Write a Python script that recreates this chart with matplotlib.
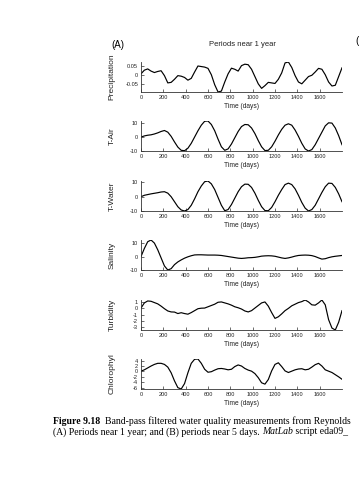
import numpy as np
import matplotlib
matplotlib.use("Agg")
import matplotlib.pyplot as plt

plt.rcParams["font.family"] = ["Liberation Sans", "DejaVu Sans"]
plt.rcParams["axes.unicode_minus"] = False

# time axis (days), every 30 days
days = list(range(0, 1801, 30))

precipitation = [
    0.005, 0.025, 0.032, 0.02, 0.012, 0.018, 0.022, -0.005, -0.045, -0.042,
    -0.025, -0.005, -0.008, -0.015, -0.03, -0.02, 0.015, 0.048, 0.045, 0.042,
    0.035, 0.0, -0.055, -0.095, -0.09, -0.04, 0.005, 0.036, 0.03, 0.02,
    0.05, 0.058, 0.055, 0.03, -0.01, -0.05, -0.075, -0.06, -0.042, -0.045,
    -0.048, -0.025, 0.01, 0.065, 0.07, 0.04, -0.005, -0.04, -0.05, -0.03,
    -0.01, -0.003, 0.015, 0.035, 0.03, 0.0, -0.04, -0.062, -0.058, -0.01,
    0.038,
]
t_air = [
    0, 0.8, 1.3, 1.6, 2.2, 3.0, 4.0, 4.7, 3.5, 0.5,
    -3.5, -7.2, -9.5, -9.8, -8.0, -4.5, 0, 4.5, 8.5, 11.3,
    11.5, 9.0, 4.5, -1.5, -7.0, -9.5, -8.5, -5.0, -0.5, 4.0,
    7.5, 9.0, 8.8, 6.5, 2.5, -2.5, -7.0, -9.7, -9.5, -7.0,
    -3.0, 1.5, 5.5, 8.5, 9.5, 8.5, 5.0, 0.5, -4.5, -8.5,
    -10.0, -9.0, -5.5, -1.0, 3.5, 8.0, 10.2, 10.0, 6.5, 1.0,
    -5.5,
]
t_water = [
    0, 1.0, 1.5, 2.0, 2.4, 2.8, 3.3, 3.5, 2.5, 0,
    -3.5, -7.0, -9.3, -10.0, -9.0, -6.0, -1.5, 3.5, 7.5, 10.5,
    11.0, 9.0, 5.0, -0.5, -6.0, -9.8, -9.0, -5.5, -1.0, 3.5,
    7.0, 8.8, 8.7, 6.5, 2.5, -2.5, -7.0, -9.7, -9.8, -7.5,
    -3.5, 1.0, 5.0, 8.5, 9.5, 8.5, 5.5, 1.0, -4.0, -8.0,
    -10.0, -9.0, -6.0, -1.5, 3.0, 7.0, 9.5, 9.3, 6.5, 2.0,
    -3.5,
]
salinity = [
    0, 6, 11, 12.3, 10, 5, -1, -7, -10, -9,
    -6, -4, -2.5, -1.2, -0.2, 0.6, 1.2, 1.3, 1.3, 1.2,
    1.1, 1.1, 1.1, 1.0, 0.8, 0.4, 0, -0.4, -0.8, -1.2,
    -1.4, -1.2, -0.9, -0.8, -0.6, -0.2, 0.3, 0.5, 0.6, 0.5,
    0.2, -0.4, -1.0, -1.4, -1.0, -0.4, 0.3, 0.8, 1.0, 1.1,
    1.0, 0.7, 0, -1.0, -1.9, -1.6, -0.8, -0.2, 0.2, 0.5,
    0.8,
]
turbidity = [
    0.0, 0.8, 1.1, 1.05, 0.85, 0.65, 0.3, -0.1, -0.45, -0.6,
    -0.62, -0.85, -0.72, -0.85, -0.95, -0.7, -0.4, -0.1, -0.02, 0.0,
    0.2, 0.4, 0.6, 0.9, 0.95, 0.8, 0.65, 0.45, 0.2, 0.05,
    -0.15, -0.45, -0.6, -0.4, 0.0, 0.4, 0.8, 0.95, 0.3, -0.7,
    -1.6, -1.35, -0.9, -0.4, -0.05, 0.35, 0.6, 0.85, 1.0, 1.25,
    0.95, 0.5, 0.45, 0.8, 1.25, 0.5, -1.8, -3.1, -3.4, -2.2,
    -0.4,
]
chlorophyl = [
    0.1, 0.6, 1.3, 2.0, 2.6, 3.0, 3.0, 2.6, 1.6, -0.5,
    -3.5, -6.0, -6.5, -4.5, -0.5, 3.0, 4.5, 4.6, 3.0, 0.8,
    -0.3, -0.1, 0.5, 1.0, 1.1, 0.9, 0.6, 0.8, 1.8, 2.4,
    2.0, 1.1, 0.5, 0.1, -0.8, -2.3, -4.2, -4.7, -3.0, 0.2,
    2.6, 3.2, 1.8, 0.2, -0.4, 0.1, 0.6, 0.9, 1.0, 0.6,
    0.8, 1.6, 2.5, 3.0, 2.0, 0.6, 0.1, -0.4, -1.2, -2.0,
    -2.9,
]

panels = [
    ("Precipitation", precipitation, [-0.05, 0, 0.05], ["-0.05", "0", "0.05"]),
    ("T-Air", t_air, [-10, 0, 10], ["-10", "0", "10"]),
    ("T-Water", t_water, [-10, 0, 10], ["-10", "0", "10"]),
    ("Salinity", salinity, [-10, 0, 10], ["-10", "0", "10"]),
    ("Turbidity", turbidity, [-3, -2, -1, 0, 1], ["-3", "-2", "-1", "0", "1"]),
    ("Chlorophyl", chlorophyl, [-6, -4, -2, 0, 2, 4], ["-6", "-4", "-2", "0", "2", "4"]),
]
xticks = list(range(0, 1601, 200))

W, H = 359, 480
fig = plt.figure(figsize=(W / 100, H / 100), dpi=100)
tops = [62, 121, 181, 240, 300, 359]
left, right, hgt = 141, 342, 30

for (name, vals, yt, ytl), top in zip(panels, tops):
    ax = fig.add_axes([left / W, 1 - (top + hgt) / H, (right - left) / W, hgt / H])
    ax.plot(days, vals, color="black", lw=0.85)
    ax.set_xlim(0, 1800)
    ax.set_ylim(min(vals), max(vals))
    ax.set_xticks(xticks)
    ax.set_xticklabels([str(t) for t in xticks])
    ax.set_yticks(yt)
    ax.set_yticklabels(ytl)
    for s in ("top", "right"):
        ax.spines[s].set_visible(False)
    for s in ("left", "bottom"):
        ax.spines[s].set_linewidth(0.6)
        ax.spines[s].set_color("#333333")
    ax.tick_params(direction="in", length=2, width=0.5, labelsize=4.1,
                   pad=2, colors="#333333", labelcolor="#222222")
    ax.set_xlabel("Time (days)", fontsize=4.8, labelpad=2, color="#222222")
    ax.set_ylabel(name, fontsize=6, color="#222222")
    ax.yaxis.set_label_coords(-0.125, 0.5)

fig.text(118 / W, 1 - 45 / H, "(A)", fontsize=7, ha="center", va="center")
fig.text(242 / W, 1 - 45 / H, "Periods near 1 year", fontsize=5.5,
         ha="center", va="center", color="#222222")
fig.text(355 / W, 1 - 41 / H, "(B)", fontsize=7, ha="left", va="center")

# caption, two lines in serif with mixed styles
renderer = fig.canvas.get_renderer()


def caption_line(pieces, x_px, y_px):
    x = x_px
    for txt, weight, style in pieces:
        t = fig.text(x / W, 1 - y_px / H, txt, fontsize=7, family="Liberation Serif",
                     weight=weight, style=style, ha="left", va="center")
        x += t.get_window_extent(renderer=renderer).width


caption_line([("Figure 9.18", "bold", "normal"),
              ("  Band-pass filtered water quality measurements from Reynolds", "normal", "normal")],
             53, 421)
caption_line([("(A) Periods near 1 year; and (B) periods near 5 days. ", "normal", "normal"),
              ("MatLab", "normal", "italic"),
              (" script eda09_", "normal", "normal")],
             53, 432)

fig.savefig("out.png", dpi=100)
